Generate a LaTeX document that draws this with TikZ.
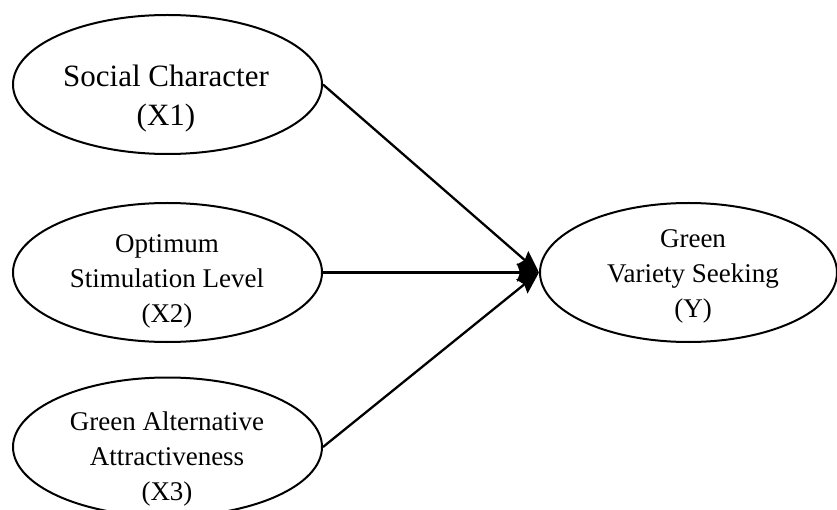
\documentclass[tikz,border=0pt]{standalone}
\usepackage{fontspec}
\setmainfont{Liberation Serif}
\usetikzlibrary{shapes.geometric,arrows.meta}
\begin{document}
\begin{tikzpicture}[x=1pt,y=-1pt,
  construct/.style={draw=black,line width=2pt,ellipse,inner sep=0pt,
    minimum width=309pt,minimum height=139pt},
  bigtext/.style={align=center,inner sep=0pt,font=\fontsize{31}{39}\selectfont},
  smalltext/.style={align=center,inner sep=0pt,font=\fontsize{27}{35}\selectfont},
  path/.style={draw=black,line width=2.3pt,-{Stealth[length=22pt,width=18pt,inset=3pt]}}
]
\useasboundingbox (0,0) rectangle (837,510);

% latent constructs
\node[construct] (x1) at (167.5,84.5) {};
\node[construct] (x2) at (167.5,272.5) {};
\node[construct] (x3) at (167.5,447) {};
\node[construct,minimum width=297pt] (y) at (688.5,272.5) {};

% construct labels
\node[bigtext] (t1) at (166,99) {Social Character\\(X1)};
\node[smalltext] (t2) at (167,281) {Optimum\\Stimulation Level\\(X2)};
\node[smalltext] (t3) at (167,459) {Green Alternative\\Attractiveness\\(X3)};
\node[smalltext] (ty) at (693,276) {Green\\Variety Seeking\\(Y)};

% structural paths
\draw[path] (x1.east) -- (y.west);
\draw[path] (x2.east) -- (y.west);
\draw[path] (x3.east) -- (y.west);
\end{tikzpicture}
\end{document}
